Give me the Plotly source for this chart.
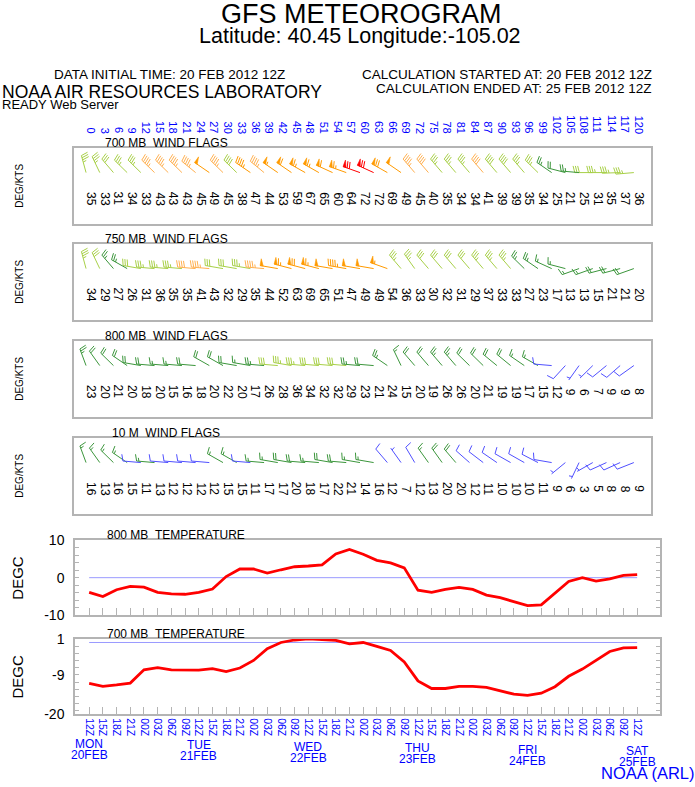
import math
import plotly.graph_objects as go

W, H = 695, 787
FONT = "Liberation Sans"

# ---------------- data ----------------
hours = list(range(0, 121, 3))
top_labels = [str(h) for h in hours]
time_labels = ["12Z", "15Z", "18Z", "21Z", "00Z", "03Z", "06Z", "09Z"] * 5 + ["12Z"]
day_names = ["MON", "TUE", "WED", "THU", "FRI", "SAT"]
day_dates = ["20FEB", "21FEB", "22FEB", "23FEB", "24FEB", "25FEB"]
day_hours = [0, 24, 48, 72, 96, 120]

spd700 = [35, 33, 31, 34, 33, 43, 43, 43, 45, 49, 45, 38, 47, 44, 53, 59, 67, 65, 60, 64, 72,
          72, 69, 49, 45, 40, 35, 34, 34, 41, 39, 39, 35, 34, 25, 21, 25, 31, 35, 37, 36]
dir700 = [345, 335, 320, 315, 315, 315, 315, 315, 310, 305, 315, 315, 305, 310, 305, 305, 300, 300, 295, 290, 290,
          295, 300, 305, 320, 320, 320, 320, 320, 320, 320, 320, 320, 315, 305, 285, 275, 270, 270, 268, 265]

spd750 = [34, 29, 27, 26, 31, 36, 35, 35, 41, 43, 32, 29, 35, 44, 52, 63, 69, 65, 51, 47, 49,
          49, 54, 36, 33, 30, 32, 31, 29, 37, 33, 33, 27, 23, 17, 13, 13, 15, 21, 21, 20]
dir750 = [345, 335, 320, 300, 280, 275, 275, 275, 275, 275, 280, 280, 280, 275, 280, 285, 285, 285, 280, 280, 280,
          280, 290, 320, 325, 320, 320, 320, 320, 320, 320, 320, 315, 305, 295, 285, 250, 250, 255, 255, 250]

spd800 = [23, 20, 21, 20, 18, 20, 15, 16, 18, 20, 22, 20, 17, 26, 28, 36, 34, 32, 32, 29, 23,
          21, 24, 15, 20, 19, 26, 26, 20, 21, 19, 19, 17, 15, 12, 9, 6, 7, 9, 9, 8]
dir800 = [340, 325, 315, 305, 280, 275, 275, 275, 275, 300, 300, 280, 280, 275, 275, 280, 275, 275, 275, 275, 275,
          275, 305, 335, 320, 320, 320, 320, 315, 315, 310, 310, 305, 300, 275, 222, 215, 225, 230, 228, 234]

spd10m = [16, 13, 16, 15, 11, 13, 12, 12, 12, 12, 15, 15, 11, 17, 17, 20, 18, 17, 22, 21, 14,
          16, 12, 7, 12, 13, 20, 20, 12, 11, 10, 10, 10, 11, 9, 6, 3, 5, 8, 8, 9]
dir10m = [340, 325, 315, 305, 275, 275, 275, 275, 275, 275, 300, 300, 275, 275, 280, 280, 275, 275, 280, 275, 280,
          280, 320, 325, 330, 325, 325, 320, 312, 308, 305, 300, 300, 298, 280, 230, 205, 240, 245, 245, 248]

temp800 = [-3.9, -5.0, -3.2, -2.3, -2.5, -3.9, -4.3, -4.4, -3.9, -3.0, 0.3, 2.3, 2.3, 1.2, 2.1, 2.9, 3.1, 3.4,
           6.3, 7.5, 6.2, 4.6, 3.9, 2.6, -3.3, -3.9, -3.1, -2.6, -3.1, -4.6, -5.3, -6.3, -7.4, -7.2, -4.1,
           -1.0, 0.0, -0.9, -0.3, 0.6, 0.8]
temp700 = [-11.4, -12.2, -11.8, -11.3, -7.6, -7.0, -7.6, -7.7, -7.7, -7.3, -8.1, -7.1, -5.0, -1.7, 0.0, 0.7,
           1.0, 0.8, 0.6, -0.4, 0.0, -1.1, -2.2, -5.4, -10.7, -12.8, -12.8, -12.2, -12.2, -12.5, -13.4, -14.4,
           -14.7, -14.1, -12.3, -9.4, -7.4, -5.0, -2.5, -1.5, -1.4]

# ---------------- styling ----------------
FRAME = "#b4b4b4"
TXTBLUE = "#0000ff"
BLUE, GREEN, YG, LOR, DOR, RED = "#5050ff", "#3c963c", "#a8d048", "#ffb050", "#ff9a00", "#ff0000"


def color_for(s):
    if s <= 12:
        return BLUE
    if s < 28:
        return GREEN
    if s < 40:
        return YG
    if s < 47:
        return LOR
    if s < 70:
        return DOR
    return RED


def px(p):
    return p / W


def py(p):
    return 1 - p / H


WIND_X = (74, 651)
WIND_RANGE = [-3.3, 123.1]
TEMP_X = (75, 660)
TEMP_RANGE = [-3.1, 125.0]

wind_panels = [
    ("700 MB\u00a0\u00a0WIND FLAGS", spd700, dir700, 143, 220, 103),
    ("750 MB\u00a0\u00a0WIND FLAGS", spd750, dir750, 241, 318, 103),
    ("800 MB\u00a0\u00a0WIND FLAGS", spd800, dir800, 340, 417, 103),
    ("10 M\u00a0\u00a0WIND FLAGS", spd10m, dir10m, 439, 516, 110),
]

fig = go.Figure()
annos = []
layout = {}

STAFF = 18.0
FEATH = 7.0
GAP = 2.3
PEN = 3.2
TILT = math.radians(14)
BASE_Y = 52.0
BASE_DX = -3.0  # px


def barbs(speeds, dirs, pxh):
    lines, flags = {}, {}
    for h, s, d in zip(hours, speeds, dirs):
        c = color_for(s)
        th = math.radians(d)
        dx, dy = math.sin(th), math.cos(th)
        pxp, pyp = dy, -dx
        fx = pxp * math.cos(TILT) + dx * math.sin(TILT)
        fy = pyp * math.cos(TILT) + dy * math.sin(TILT)
        bx = h + BASE_DX / pxh
        by = BASE_Y

        def P(u, v):
            return bx + u / pxh, by + v

        lx, ly = lines.setdefault(c, ([], []))
        a, b = P(0, 0), P(dx * STAFF, dy * STAFF)
        lx += [a[0], b[0], None]
        ly += [a[1], b[1], None]
        r = int(s / 5.0 + 0.5) * 5
        n50, n10, n5 = r // 50, (r % 50) // 10, (r % 10) // 5
        pos = STAFF
        for _ in range(n50):
            q1 = P(dx * pos, dy * pos)
            q2 = P(dx * pos + pxp * FEATH, dy * pos + pyp * FEATH)
            q3 = P(dx * (pos - PEN), dy * (pos - PEN))
            fxs, fys = flags.setdefault(c, ([], []))
            fxs += [q1[0], q2[0], q3[0], q1[0], None]
            fys += [q1[1], q2[1], q3[1], q1[1], None]
            pos -= PEN + 1.2
        for _ in range(n10):
            q1 = P(dx * pos, dy * pos)
            q2 = P(dx * pos + fx * FEATH, dy * pos + fy * FEATH)
            lx += [q1[0], q2[0], None]
            ly += [q1[1], q2[1], None]
            pos -= GAP
        for _ in range(n5):
            if pos == STAFF:
                pos -= GAP
            q1 = P(dx * pos, dy * pos)
            q2 = P(dx * pos + fx * FEATH / 2, dy * pos + fy * FEATH / 2)
            lx += [q1[0], q2[0], None]
            ly += [q1[1], q2[1], None]
    return lines, flags


for i, (title, spd, dirs, top, bot, tx) in enumerate(wind_panels, start=1):
    xa = "xaxis" if i == 1 else f"xaxis{i}"
    ya = "yaxis" if i == 1 else f"yaxis{i}"
    xr = "x" if i == 1 else f"x{i}"
    yr = "y" if i == 1 else f"y{i}"
    hpx = bot - top
    layout[xa] = dict(domain=[px(WIND_X[0]), px(WIND_X[1])], range=WIND_RANGE, anchor=yr,
                      showline=True, mirror=True, linecolor=FRAME, linewidth=1.5,
                      showgrid=False, zeroline=False, ticks="", showticklabels=False, fixedrange=True)
    layout[ya] = dict(domain=[py(bot), py(top)], range=[0, hpx], anchor=xr,
                      showline=True, mirror=True, linecolor=FRAME, linewidth=1.5,
                      showgrid=False, zeroline=False, ticks="", showticklabels=False, fixedrange=True)
    pxh = (WIND_X[1] - WIND_X[0]) / (WIND_RANGE[1] - WIND_RANGE[0])
    lines, flags = barbs(spd, dirs, pxh)
    for c, (xs, ys) in flags.items():
        fig.add_trace(go.Scatter(x=xs, y=ys, xaxis=xr, yaxis=yr, mode="lines", fill="toself",
                                 fillcolor=c, line=dict(color=c, width=0.6), hoverinfo="skip",
                                 showlegend=False))
    for c, (xs, ys) in lines.items():
        fig.add_trace(go.Scatter(x=xs, y=ys, xaxis=xr, yaxis=yr, mode="lines",
                                 line=dict(color=c, width=1), hoverinfo="skip", showlegend=False))
    for h, s in zip(hours, spd):
        annos.append(dict(x=h + 2.0 / pxh, y=25, xref=xr, yref=yr, text=str(s), textangle=90,
                          showarrow=False, font=dict(family=FONT, size=12, color="black"),
                          xanchor="center", yanchor="middle"))
    annos.append(dict(x=px(tx), y=py(top - 5), xref="paper", yref="paper", text=title,
                      showarrow=False, xanchor="left", yanchor="middle",
                      font=dict(family=FONT, size=12, color="black")))
    annos.append(dict(x=px(20), y=py((top + bot) / 2), xref="paper", yref="paper", text="DEG/KTS",
                      textangle=-90, showarrow=False, xanchor="center", yanchor="middle",
                      font=dict(family=FONT, size=10, color="black")))

# temperature panels
temp_panels = [
    ("800 MB\u00a0\u00a0TEMPERATURE", temp800, 543, 620, [-10, 10], [-10, 0, 10], 0, 5),
    ("700 MB\u00a0\u00a0TEMPERATURE", temp700, 644, 721, [-20, 1], [-20, -9, 1], 1, 6),
]
for title, temps, top, bot, yrng, tv, t0, i in temp_panels:
    xa, ya, xr, yr = f"xaxis{i}", f"yaxis{i}", f"x{i}", f"y{i}"
    last = i == 6
    layout[xa] = dict(domain=[px(TEMP_X[0]), px(TEMP_X[1])], range=TEMP_RANGE, anchor=yr,
                      showline=True, mirror=True, linecolor=FRAME, linewidth=1.5,
                      showgrid=False, zeroline=False, ticks="inside", ticklen=8, tickcolor=FRAME,
                      tickwidth=1, tickvals=hours, ticktext=time_labels,
                      showticklabels=last, tickangle=90,
                      tickfont=dict(family=FONT, size=10.5, color=TXTBLUE), fixedrange=True)
    layout[ya] = dict(domain=[py(bot), py(top)], range=yrng, anchor=xr,
                      showline=True, mirror="ticks", linecolor=FRAME, linewidth=1.5,
                      showgrid=False, zeroline=False, ticks="inside", ticklen=4, tickcolor=FRAME,
                      tickvals=tv, ticktext=[str(v) for v in tv], ticklabelstandoff=6,
                      tickfont=dict(family=FONT, size=14, color="black"),
                      minor=dict(ticks="inside", ticklen=4, tickcolor=FRAME, dtick=2, tick0=t0),
                      fixedrange=True)
    fig.add_trace(go.Scatter(x=[hours[0], hours[-1]], y=[0, 0], xaxis=xr, yaxis=yr, mode="lines",
                             line=dict(color="#9a9aff", width=1), hoverinfo="skip", showlegend=False))
    fig.add_trace(go.Scatter(x=hours, y=temps, xaxis=xr, yaxis=yr, mode="lines",
                             line=dict(color="#ff0000", width=2.8), hoverinfo="skip", showlegend=False))
    annos.append(dict(x=px(105), y=py(top - 5), xref="paper", yref="paper", text=title,
                      showarrow=False, xanchor="left", yanchor="middle",
                      font=dict(family=FONT, size=12, color="black")))
    annos.append(dict(x=px(18), y=py((top + bot) / 2), xref="paper", yref="paper", text="DEGC",
                      textangle=-90, showarrow=False, xanchor="center", yanchor="middle",
                      font=dict(family=FONT, size=15, color="black")))

# top hour labels
for h, lab in zip(hours, top_labels):
    annos.append(dict(x=h + 0.4, y=py(130), xref="x", yref="paper", text=lab, textangle=90,
                      showarrow=False, xanchor="center", yanchor="bottom",
                      font=dict(family=FONT, size=11, color=TXTBLUE)))

# day labels
for k, (dn, dd, dh) in enumerate(zip(day_names, day_dates, day_hours)):
    annos.append(dict(x=dh, y=py(751 + 1.5 * k), xref="x6", yref="paper", text=dn,
                      showarrow=False, xanchor="center", yanchor="middle",
                      font=dict(family=FONT, size=12, color=TXTBLUE)))
    annos.append(dict(x=dh, y=py(762 + 1.6 * k), xref="x6", yref="paper", text=dd,
                      showarrow=False, xanchor="center", yanchor="middle",
                      font=dict(family=FONT, size=12, color=TXTBLUE)))

# header texts
hdr = [
    ("GFS METEOROGRAM", 361, 6, "center", 27),
    ("Latitude: 40.45 Longitude:-105.02", 360, 29, "center", 21.5),
    ("DATA INITIAL TIME: 20 FEB 2012 12Z", 52, 68, "left", 13.5),
    ("CALCULATION STARTED AT: 20 FEB 2012 12Z", 654, 68, "right", 13.5),
    ("CALCULATION ENDED AT: 25 FEB 2012 12Z", 654, 82, "right", 13.5),
    ("NOAA AIR RESOURCES LABORATORY", 0, 86, "left", 17.5),
    ("READY Web Server", 0, 99, "left", 13),
]
for t, x, y, anc, sz in hdr:
    annos.append(dict(x=px(x), y=py(y), xref="paper", yref="paper", text=t, showarrow=False,
                      xanchor=anc, yanchor="middle", font=dict(family=FONT, size=sz, color="black")))
annos.append(dict(x=px(697), y=py(781), xref="paper", yref="paper", text="NOAA (ARL)",
                  showarrow=False, xanchor="right", yanchor="middle",
                  font=dict(family=FONT, size=16.5, color=TXTBLUE)))

fig.update_layout(width=W, height=H, autosize=False, margin=dict(l=0, r=0, t=0, b=0, pad=0),
                  paper_bgcolor="white", plot_bgcolor="white", showlegend=False,
                  annotations=annos, **layout)

fig.write_html("out.html", config={"displayModeBar": False},
               post_script="document.body.style.margin='0';document.body.style.overflow='hidden';"
                           "document.documentElement.style.overflow='hidden';")
